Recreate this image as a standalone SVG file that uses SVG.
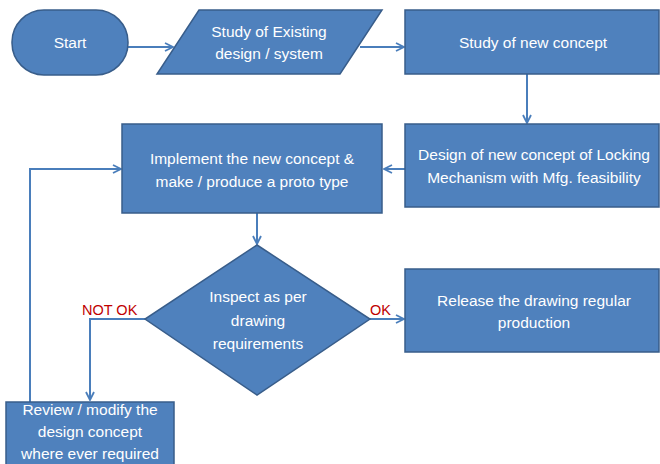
<svg xmlns="http://www.w3.org/2000/svg" width="660" height="464" viewBox="0 0 660 464">
<defs>
<marker id="arr" viewBox="0 0 10 10" refX="9" refY="5" markerWidth="10" markerHeight="10" markerUnits="userSpaceOnUse" orient="auto">
<polyline points="1,1 9,5 1,9" fill="none" stroke="#4A7EBB" stroke-width="1.8"/>
</marker>
<style>
.n{fill:#4F81BD;stroke:#385D8A;stroke-width:1.5}
.t{font-family:"Liberation Sans",Arial,sans-serif;font-size:15.5px;fill:#FFFFFF;text-anchor:middle}
.c{fill:none;stroke:#4A7EBB;stroke-width:2;marker-end:url(#arr)}
.l{font-family:"Liberation Sans",Arial,sans-serif;font-size:14.5px;fill:#C00000}
</style>
</defs>
<rect width="660" height="464" fill="#FFFFFF"/>
<g id="connectors">
<line class="c" x1="128" y1="47" x2="173" y2="47"/>
<line class="c" x1="360" y1="47" x2="404" y2="47"/>
<line class="c" x1="527" y1="74" x2="527" y2="123"/>
<line class="c" x1="405" y1="169" x2="384" y2="169"/>
<line class="c" x1="257" y1="213" x2="257" y2="244"/>
<line class="c" x1="370" y1="319" x2="404" y2="319"/>
<polyline class="c" points="145,319 90,319 90,400"/>
<polyline class="c" points="30,402 30,169 121,169"/>
<text class="l" x="370" y="315">OK</text>
<text class="l" x="82" y="315">NOT OK</text>
</g>
<g id="start">
<rect class="n" x="12" y="10" width="116" height="65" rx="32" ry="32"/>
<text class="t" x="70" y="48">Start</text>
</g>
<g id="study-existing">
<polygon class="n" points="199,10 382,10 340,74 157,74"/>
<text class="t" x="269" y="37">Study of Existing</text>
<text class="t" x="269" y="59">design / system</text>
</g>
<g id="study-new">
<rect class="n" x="405" y="10" width="254" height="64"/>
<text class="t" x="533" y="48">Study of new concept</text>
</g>
<g id="design-new">
<rect class="n" x="405" y="124" width="254" height="83"/>
<text class="t" x="534" y="160">Design of new concept of Locking</text>
<text class="t" x="534" y="183">Mechanism with Mfg. feasibility</text>
</g>
<g id="implement">
<rect class="n" x="122" y="124" width="260" height="89"/>
<text class="t" x="252" y="164">Implement the new concept &amp;</text>
<text class="t" x="252" y="187">make / produce a proto type</text>
</g>
<g id="inspect">
<polygon class="n" points="257,245 370,319 257,395 145,319"/>
<text class="t" x="258" y="302">Inspect as per</text>
<text class="t" x="258" y="326">drawing</text>
<text class="t" x="258" y="349">requirements</text>
</g>
<g id="release">
<rect class="n" x="405" y="269" width="254" height="83"/>
<text class="t" x="534" y="306">Release the drawing regular</text>
<text class="t" x="534" y="328">production</text>
</g>
<g id="review">
<rect class="n" x="6" y="402" width="168" height="70"/>
<text class="t" x="90" y="415">Review / modify the</text>
<text class="t" x="90" y="437">design concept</text>
<text class="t" x="90" y="459">where ever required</text>
</g>
</svg>
